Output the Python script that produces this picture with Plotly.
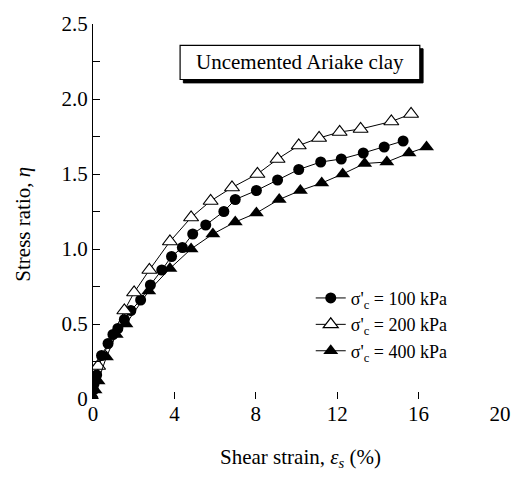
import plotly.graph_objects as go

# ---- data ----
strain_100 = [0, 0.02, 0.05, 0.18, 0.42, 0.74, 0.98, 1.22, 1.54, 1.86, 2.34, 2.82, 3.38, 3.86,
              4.39, 4.90, 5.54, 6.43, 6.99, 8.03, 9.07, 10.11, 11.19, 12.20, 13.28, 14.31, 15.24]
eta_100 = [0, 0.06, 0.10, 0.16, 0.29, 0.37, 0.43, 0.47, 0.53, 0.59, 0.66, 0.76, 0.86, 0.95,
           1.01, 1.10, 1.16, 1.25, 1.33, 1.39, 1.46, 1.53, 1.58, 1.60, 1.64, 1.68, 1.72]

strain_200 = [0, 0.25, 1.54, 2.02, 2.77, 3.78, 4.82, 5.78, 6.83, 8.08, 9.07, 10.11, 11.11,
              12.12, 13.15, 14.66, 15.63]
eta_200 = [0, 0.22, 0.59, 0.71, 0.86, 1.05, 1.21, 1.32, 1.41, 1.50, 1.60, 1.69, 1.74,
           1.78, 1.80, 1.85, 1.90]

strain_400 = [0, 0.10, 0.25, 0.66, 1.14, 1.62, 2.74, 3.78, 4.82, 5.89, 6.99, 8.03, 9.15,
              10.19, 11.24, 12.27, 13.35, 14.44, 15.53, 16.39]
eta_400 = [0, 0.06, 0.12, 0.28, 0.43, 0.50, 0.72, 0.87, 1.00, 1.10, 1.18, 1.24, 1.33,
           1.39, 1.44, 1.50, 1.57, 1.58, 1.64, 1.68]

series_names = ["σ'<sub>c</sub> = 100 kPa", "σ'<sub>c</sub> = 200 kPa", "σ'<sub>c</sub> = 400 kPa"]

x_ticks = [0, 4, 8, 12, 16, 20]
y_ticks = [0, 0.5, 1.0, 1.5, 2.0, 2.5]
y_tick_text = ["0", "0.5", "1.0", "1.5", "2.0", "2.5"]

FONT = "Liberation Serif"

fig = go.Figure()
fig.add_trace(go.Scatter(
    x=strain_100, y=eta_100, mode="lines+markers", name=series_names[0],
    line=dict(color="black", width=1),
    marker=dict(symbol="circle", size=11, color="black")))
fig.add_trace(go.Scatter(
    x=strain_200, y=eta_200, mode="lines+markers", name=series_names[1],
    line=dict(color="black", width=1),
    marker=dict(symbol="triangle-up", size=13, color="white", line=dict(color="black", width=1.2))))
fig.add_trace(go.Scatter(
    x=strain_400, y=eta_400, mode="lines+markers", name=series_names[2],
    line=dict(color="black", width=1),
    marker=dict(symbol="triangle-up", size=13, color="black")))

# title box with shadow
bx0, bx1, by0, by1 = 0.214, 0.803, 0.852, 0.943
dx, dy = 0.008, 0.009
fig.add_shape(type="rect", xref="paper", yref="paper",
              x0=bx0 + dx, x1=bx1 + dx, y0=by0 - dy, y1=by1 - dy,
              fillcolor="black", line=dict(color="black", width=1))
fig.add_shape(type="rect", xref="paper", yref="paper",
              x0=bx0, x1=bx1, y0=by0, y1=by1,
              fillcolor="white", line=dict(color="black", width=1.2))
fig.add_annotation(xref="paper", yref="paper", x=(bx0 + bx1) / 2, y=(by0 + by1) / 2,
                   xanchor="center", yanchor="middle",
                   text="Uncemented Ariake clay", showarrow=False,
                   font=dict(family=FONT, size=21, color="black"))

# axis titles
fig.add_annotation(xref="paper", yref="paper", x=0.51, y=-0.157,
                   xanchor="center", yanchor="middle", showarrow=False,
                   text="Shear strain, <i>ε<sub>s</sub></i> (%)",
                   font=dict(family=FONT, size=21, color="black"))
fig.add_annotation(xref="paper", yref="paper", x=-0.171, y=0.466,
                   xanchor="center", yanchor="middle", showarrow=False, textangle=-90,
                   text="Stress ratio, <i>η</i>",
                   font=dict(family=FONT, size=21, color="black"))

fig.update_xaxes(
    range=[0, 20], tickmode="array", tickvals=x_ticks,
    ticks="inside", ticklen=7, tickwidth=1, tickcolor="black",
    showline=False, showgrid=False, zeroline=False,
    tickfont=dict(family=FONT, size=21, color="black"))
fig.update_yaxes(
    range=[0, 2.5], tickmode="array", tickvals=y_ticks, ticktext=y_tick_text,
    ticks="inside", ticklen=7, tickwidth=1, tickcolor="black",
    minor=dict(tickmode="linear", tick0=0, dtick=0.25, ticks="inside", ticklen=7,
               tickwidth=1, tickcolor="black"),
    showline=True, linecolor="black", linewidth=1.3,
    showgrid=False, zeroline=False,
    tickfont=dict(family=FONT, size=21, color="black"))

fig.update_layout(
    width=523, height=477,
    margin=dict(l=93, r=14, t=15, b=78),
    paper_bgcolor="white", plot_bgcolor="white",
    showlegend=True,
    legend=dict(x=0.535, y=0.318, xanchor="left", yanchor="top",
                bgcolor="rgba(0,0,0,0)", borderwidth=0,
                font=dict(family=FONT, size=18, color="black")),
)

fig.write_html("out.html")
